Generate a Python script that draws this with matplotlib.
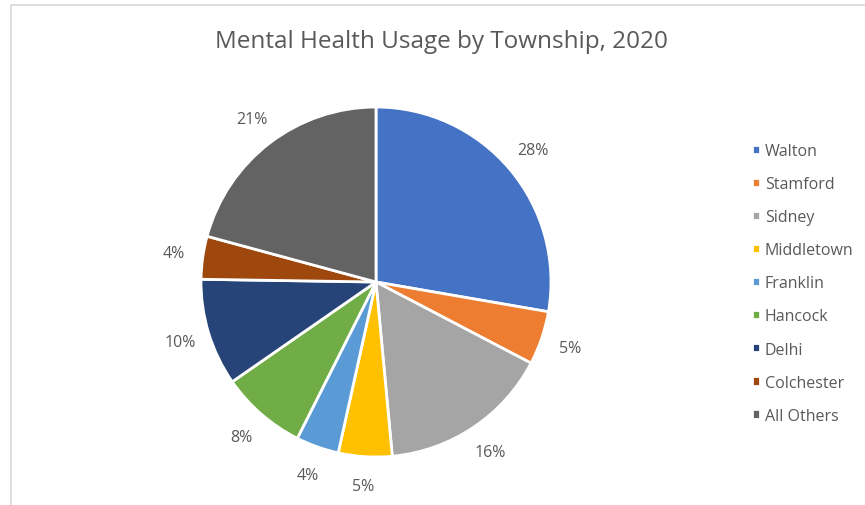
import matplotlib.pyplot as plt
from matplotlib.patches import Rectangle

townships = ['Walton', 'Stamford', 'Sidney', 'Middletown', 'Franklin',
             'Hancock', 'Delhi', 'Colchester', 'All Others']
shares = [28, 5, 16, 5, 4, 8, 10, 4, 21]
colors = ['#4472C4', '#ED7D31', '#A5A5A5', '#FFC000', '#5B9BD5',
          '#70AD47', '#264478', '#9E480E', '#636363']

plt.rcParams['font.family'] = ['Open Sans', 'DejaVu Sans']

W, H = 865, 506
fig = plt.figure(figsize=(W / 100, H / 100), dpi=100)

# рамка диаграммы
fig.add_artist(Rectangle((11 / W, -0.05), 1.2, (H - 6) / H + 0.05,
                         transform=fig.transFigure, fill=False,
                         edgecolor='#D9D9D9', linewidth=1.2))

cx, cy, r = 376, 283, 175
ax = fig.add_axes([(cx - r) / W, (H - cy - r) / H, 2 * r / W, 2 * r / H])
wedges, _, autotexts = ax.pie(shares, colors=colors, startangle=90, counterclock=False,
                              radius=1, autopct='%1.0f%%', pctdistance=1.17,
                              wedgeprops=dict(edgecolor='white', linewidth=2),
                              textprops=dict(color='#595959', fontsize=11.5))
ax.set_xlim(-1, 1)
ax.set_ylim(-1, 1)
ax.set_aspect('equal')

fig.text(441 / W, 1 - 42 / H, 'Mental Health Usage by Township, 2020',
         ha='center', va='center', fontsize=17.5, color='#595959')

fig.legend(wedges, townships, loc='upper left', bbox_to_anchor=(744 / W, 1 - 136 / H),
           frameon=False, fontsize=11.5, labelcolor='#595959',
           handlelength=0.5, handleheight=0.5, handletextpad=0.3,
           labelspacing=1.07, borderpad=0)

fig.savefig('out.png', dpi=100)
